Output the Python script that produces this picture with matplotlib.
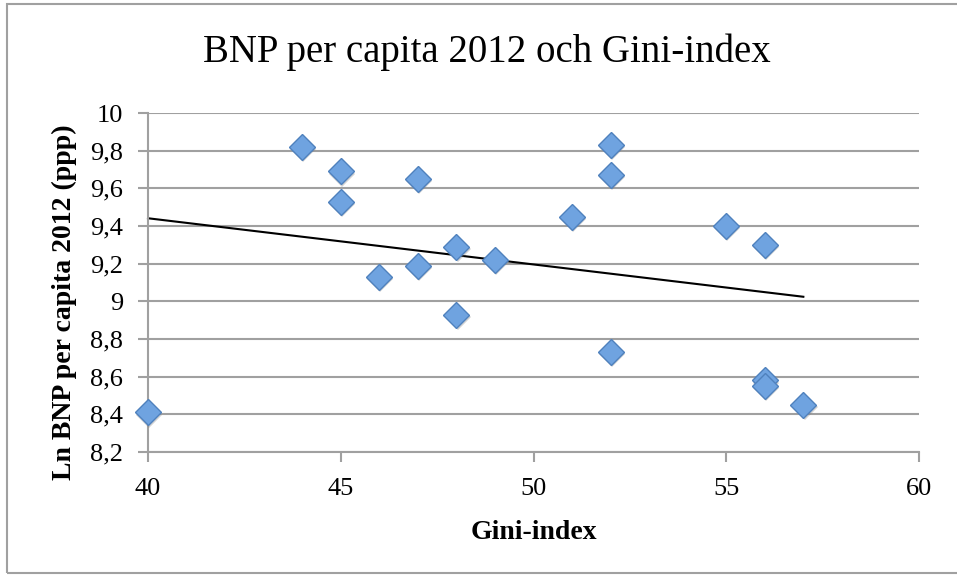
import numpy as np
import matplotlib.pyplot as plt
from matplotlib.patches import Rectangle

# Data
gini = [40, 44, 45, 45, 46, 47, 47, 48, 48, 49, 51, 52, 52, 52, 55, 56, 56, 56, 57]
ln_bnp = [8.41, 9.82, 9.69, 9.53, 9.13, 9.65, 9.19, 9.29, 8.93, 9.22,
          9.45, 9.83, 9.67, 8.73, 9.40, 9.30, 8.58, 8.55, 8.45]
y_ticks = [8.2, 8.4, 8.6, 8.8, 9.0, 9.2, 9.4, 9.6, 9.8, 10.0]
y_labels = ['8,2', '8,4', '8,6', '8,8', '9', '9,2', '9,4', '9,6', '9,8', '10']
x_ticks = [40, 45, 50, 55, 60]

plt.rcParams['font.family'] = ['Liberation Serif', 'DejaVu Serif']

fig = plt.figure(figsize=(9.57, 5.78), dpi=100)
ax = fig.add_axes([148 / 957, 1 - 452 / 578, (919 - 148) / 957, (452 - 113) / 578])

# outer chart border
fig.patches.append(Rectangle((7 / 957, 5 / 578), 960 / 957, 569 / 578,
                             transform=fig.transFigure, fill=False,
                             edgecolor='#a0a0a0', linewidth=1.5))

ax.set_xlim(40, 60)
ax.set_ylim(8.2, 10.0)
ax.set_xticks(x_ticks)
ax.set_yticks(y_ticks)
ax.set_yticklabels(y_labels)
ax.grid(axis='y', color='#a0a0a0', linewidth=1.5)
ax.set_axisbelow(True)
for s in ['top', 'right']:
    ax.spines[s].set_visible(False)
for s in ['left', 'bottom']:
    ax.spines[s].set_color('#a0a0a0')
    ax.spines[s].set_linewidth(1.5)
ax.tick_params(axis='both', direction='out', color='#a0a0a0', width=1.5,
               length=7, labelsize=19)
ax.tick_params(axis='x', pad=12)
ax.tick_params(axis='y', pad=11)

# trendline (least squares)
k, m = np.polyfit(gini, ln_bnp, 1)
xs = np.array([min(gini), max(gini)])
ax.plot(xs, k * xs + m, color='black', linewidth=1.5, zorder=2, clip_on=False)

# markers with a soft shadow
ax.plot(np.array(gini) + 0.03, np.array(ln_bnp) - 0.012, 'D', markersize=13,
        color='#808080', alpha=0.35, markeredgewidth=0, linestyle='none',
        zorder=3, clip_on=False)
ax.plot(gini, ln_bnp, 'D', markersize=13, markerfacecolor='#6fa3e0',
        markeredgecolor='#4f81bd', markeredgewidth=1, linestyle='none',
        zorder=4, clip_on=False)

fig.text(487 / 957, 1 - 52 / 578, 'BNP per capita 2012 och Gini-index',
         ha='center', va='center', fontsize=28)
ax.set_xlabel('Gini-index', fontsize=20, fontweight='bold', labelpad=14)
ax.set_ylabel('Ln BNP per capita 2012 (ppp)', fontsize=20, fontweight='bold')
ax.yaxis.set_label_coords(-0.092, 0.442)

fig.savefig('out.png', dpi=100)
